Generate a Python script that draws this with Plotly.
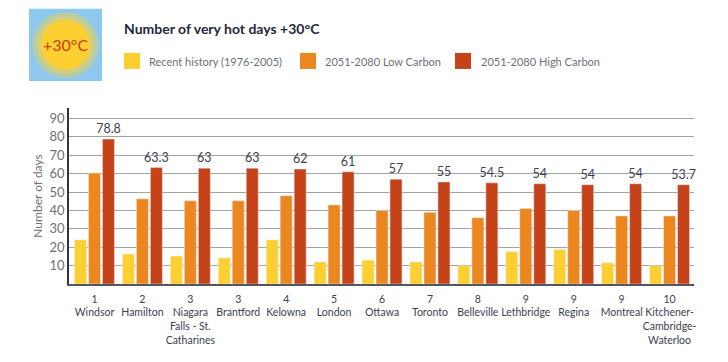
import plotly.graph_objects as go

ranks = ["1", "2", "3", "3", "4", "5", "6", "7", "8", "9", "9", "9", "10"]
cities = ["Windsor", "Hamilton", "Niagara<br>Falls - St.<br>Catharines", "Brantford", "Kelowna", "London",
          "Ottawa", "Toronto", "Belleville", "Lethbridge", "Regina", "Montreal",
          "Kitchener-<br>Cambridge-<br>Waterloo"]
recent = [24, 16.3, 15.2, 14.2, 24, 12, 13, 12, 10, 17.5, 18.7, 11.5, 10]
low = [60.3, 46.3, 45.2, 45.2, 48, 43, 40, 39, 36, 41, 40, 37, 37]
high = [78.8, 63.3, 63, 63, 62.5, 61, 57, 55.5, 55, 54.5, 54, 54.5, 54]
high_labels = ["78.8", "63.3", "63", "63", "62", "61", "57", "55", "54.5", "54", "54", "54", "53.7"]
y_ticks = [10, 20, 30, 40, 50, 60, 70, 80, 90]
series_names = ["Recent history (1976-2005)", "2051-2080 Low Carbon", "2051-2080 High Carbon"]

YELLOW, ORANGE, RED = "#FDCF30", "#EC871F", "#C64319"
OFF = 8  # the page body has an 8 px margin
W, H = 728 - 2 * OFF, 362 - 2 * OFF
FONT = "Lato, sans-serif"
INK = "#3B4150"
GREY = "#6D7079"
L, R, T, B = 69 - OFF, 694 - OFF, 108 - OFF, 283.7 - OFF
px = lambda v: (v - OFF - L) / (R - L)
py = lambda v: (B - (v - OFF)) / (B - T)

xs = [f"{r}<br>{c}" for r, c in zip(ranks, cities)]

fig = go.Figure()
fig.add_bar(x=list(range(13)), y=recent, name=series_names[0], marker_color=YELLOW, showlegend=False)
fig.add_bar(x=list(range(13)), y=low, name=series_names[1], marker_color=ORANGE, showlegend=False)
fig.add_bar(x=list(range(13)), y=high, name=series_names[2], marker_color=RED, showlegend=False,
            text=high_labels, textposition="outside", cliponaxis=False, constraintext="none",
            textangle=0, textfont=dict(family=FONT, size=12.5, color=INK))

shapes = [
    dict(type="rect", xref="paper", yref="paper", x0=px(29), x1=px(102), y0=py(9), y1=py(81),
         fillcolor="#8EC8EE", line_width=0, layer="below"),
]
for r, col in [(33, "#B5CDA6"), (28.5, "#D6CE7A"), (24.5, "#FDCF30")]:
    shapes.append(dict(type="circle", xref="paper", yref="paper", x0=px(65.5 - r), x1=px(65.5 + r),
                       y0=py(45 + r), y1=py(45 - r), fillcolor=col, line_width=0, layer="below"))
annotations = [
    dict(text="+30°C", x=px(65.5), y=py(45), xref="paper", yref="paper", showarrow=False,
         xanchor="center", yanchor="middle", font=dict(family=FONT, size=16, color=RED)),
    dict(text="<b>Number of very hot days +30°C</b>", x=px(122), y=py(29), xref="paper", yref="paper",
         xanchor="left", yanchor="middle", showarrow=False, font=dict(family=FONT, size=14, color="#23283A")),
]
for sx, tx, col, name in zip([124, 300, 455], [147, 323, 479], [YELLOW, ORANGE, RED], series_names):
    shapes.append(dict(type="rect", xref="paper", yref="paper", x0=px(sx), x1=px(sx + 16), y0=py(53), y1=py(69),
                       fillcolor=col, line_width=0))
    annotations.append(dict(text=name, x=px(tx), y=py(61.5), xref="paper", yref="paper", xanchor="left",
                            yanchor="middle", showarrow=False, font=dict(family=FONT, size=11, color=GREY)))

fig.update_layout(
    width=W, height=H, autosize=False, paper_bgcolor="white", plot_bgcolor="white",
    margin=dict(l=L, r=W - R, t=T, b=H - B, pad=0),
    barmode="group", bargap=0.125, bargroupgap=0.14,
    shapes=shapes, annotations=annotations,
    font=dict(family=FONT, color=INK),
    xaxis=dict(tickmode="array", tickvals=list(range(13)), ticktext=xs, range=[-0.532, 12.51],
               ticks="outside", ticklen=4, tickcolor="rgba(0,0,0,0)", showgrid=False, showline=True,
               linecolor="#55575C", linewidth=2, automargin=False,
               tickangle=0, tickfont=dict(family=FONT, size=10.5, color=INK)),
    yaxis=dict(range=[0, 95.7], tickvals=y_ticks, showgrid=True, gridcolor="#A3A3A3", gridwidth=1,
               showline=True, linecolor="#333333", linewidth=1.5, ticks="", zeroline=False, automargin=False,
               tickfont=dict(family=FONT, size=13, color=GREY),
               title=dict(text="Number of days", font=dict(family=FONT, size=12, color=GREY), standoff=4)),
)
fig.write_html("out.html")
